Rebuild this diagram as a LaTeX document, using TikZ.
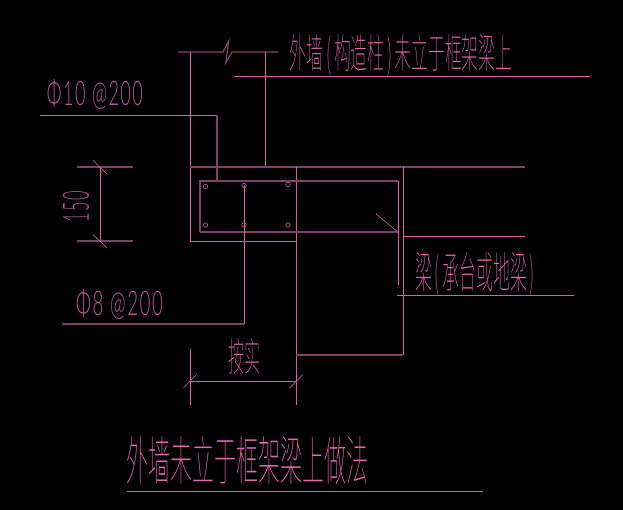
\documentclass[tikz,border=0pt]{standalone}
\usepackage{fontspec}
\usepackage{graphicx}
\newfontfamily\cjkfont{Noto Sans CJK SC Thin}
\newfontfamily\numfont[LetterSpace=8]{Lato Light}
\definecolor{bright}{HTML}{D95FA3}
\definecolor{dim}{HTML}{804068}
\definecolor{ink}{HTML}{E868B0}
\definecolor{numink}{HTML}{B85890}
\definecolor{tickink}{HTML}{B85890}
\tikzset{
  thin line/.style={draw=bright, line width=0.7pt},
  heavy line/.style={draw=dim, line width=1.2pt},
  tick/.style={draw=tickink, line width=0.7pt},
  bar/.style={circle, draw=tickink, line width=0.7pt, inner sep=0pt, minimum size=4.4pt},
  cad/.style={text=ink, inner sep=0pt},
  cadn/.style={text=numink, inner sep=0pt},
}
\newcommand{\cadtext}[3]{\resizebox{#1pt}{#2pt}{\cjkfont #3}}
\newcommand{\cadnum}[3]{\resizebox{#1pt}{#2pt}{\numfont #3}}
\begin{document}
\begin{tikzpicture}[x=1pt,y=-1pt]
  \fill[black] (0,0) rectangle (623,510);
  \useasboundingbox (0,0) rectangle (623,510);
  % wall above the beam
  \draw[heavy line] (178,52) -- (223,52) -- (228.7,41) -- (225.7,63) -- (232,52) -- (278,52);
  \draw[thin line] (190,52) -- (190,241);
  \draw[thin line] (265,52) -- (265,167);
  \draw[thin line] (234,76) -- (590,76);
  % beam outline
  \draw[heavy line] (190,167) -- (525,167);
  \draw[thin line] (190,241) -- (296,241);
  \draw[thin line] (296,167) -- (296,405);
  \draw[thin line] (403,167) -- (403,355);
  \draw[heavy line] (296,355) -- (403,355);
  \draw[thin line] (403,236) -- (525,236);
  % stirrup and bars
  \draw[heavy line] (200,232) -- (200,181) -- (398,181);
  \draw[heavy line] (200,232) -- (398,232);
  \draw[thin line] (398,181) -- (398,285);
  \draw[tick] (376,214) -- (398,232);
  \foreach \px/\py/\pname in {205.5/186.5/a,244/185.5/b,288/184.5/c,205.5/225/d,244/225/e,288/225/f}
    \node[bar] (bar\pname) at (\px,\py) {};
  % leaders
  \draw[thin line] (40,115) -- (217,115);
  \draw[heavy line] (217,115) -- (217,181);
  \draw[thin line] (244,185.5) -- (244,324);
  \draw[heavy line] (62,324) -- (244,324);
  \draw[thin line] (397,295) -- (574,295);
  % dimension 150
  \draw[heavy line] (77,167) -- (133,167);
  \draw[heavy line] (77,241) -- (133,241);
  \draw[thin line] (100,167) -- (100,241);
  \draw[tick] (93,160.5) -- (107,174);
  \draw[tick] (93,234.5) -- (107,248);
  % dimension width
  \draw[thin line] (190,349) -- (190,405);
  \draw[thin line] (190,381) -- (296,381);
  \draw[tick] (183.5,388) -- (196.5,374.5);
  \draw[tick] (289.5,388) -- (303,374.5);
  % title
  \draw[thin line] (127,491) -- (483,491);
  % labels
  \node[cad] (wallnote) at (401,55) {\cadtext{222}{34}{外墙\,(\,构造柱\,)\,未立于框架梁上}};
  \node[cad] (beamnote) at (475,275) {\cadtext{120}{36}{梁\,(\,承台或地梁\,)}};
  \node[cad] (sizenote) at (244,356) {\cadtext{32}{33}{按实}};
  \node[cad] (title) at (247.5,460) {\cadtext{242}{44}{外墙未立于框架梁上做法}};
  \node[cadn] (topbar) at (95,95) {\cadnum{96}{26}{Φ10 @200}};
  \node[cadn] (lowbar) at (119.5,305) {\cadnum{87}{26}{Φ8 @200}};
  \node[cadn,rotate=90] (dimtext) at (76,207) {\cadnum{31}{26}{150}};
\end{tikzpicture}
\end{document}
